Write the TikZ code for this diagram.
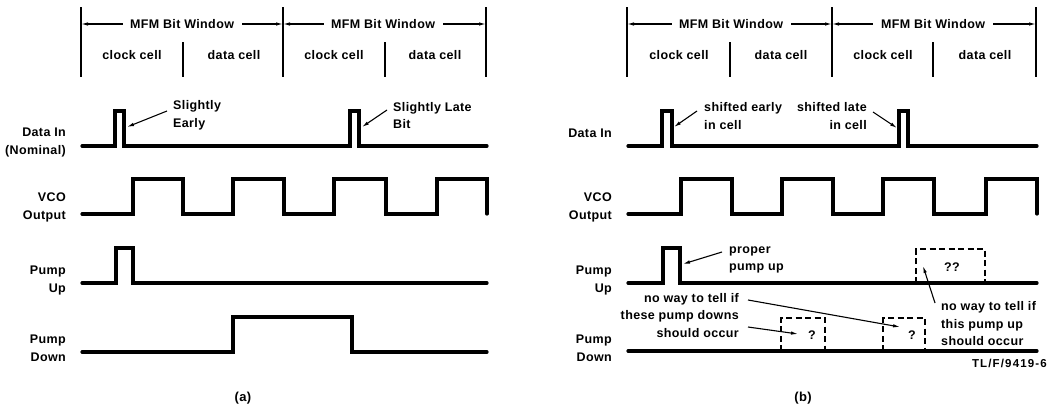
\documentclass[tikz,border=0pt]{standalone}
\usepackage{fontspec}
\setmainfont{Liberation Sans}[LetterSpace=3]
\usetikzlibrary{arrows.meta}
\begin{document}
\begin{tikzpicture}[x=1pt,y=-1pt,
  sig/.style={line width=3.2pt, line join=miter, line cap=round},
  hdr/.style={line width=1.7pt},
  harr/.style={line width=1.1pt, -{Latex[length=7pt,width=3.5pt]}},
  ann/.style={line width=1.1pt, -{Latex[length=7pt,width=3.5pt]}},
  lbl/.style={font=\bfseries\fontsize{12.5}{17.5}\selectfont, inner sep=0pt},
  dbox/.style={line width=2.8pt, dash pattern=on 6pt off 3.5pt},
]
\useasboundingbox (0,0) rectangle (1058,415);

% ---------------- panel (a) ----------------
\draw[hdr] (81,7)--(81,77) (283,7)--(283,77) (486,7)--(486,77) (183,42)--(183,77) (385,42)--(385,77);
\node[lbl] (wa1) at (182,24) {MFM Bit Window};
\node[lbl] (wa2) at (383,24) {MFM Bit Window};
\coordinate (ha0) at (81,24); \coordinate (ha1) at (283,24); \coordinate (ha2) at (486,24);
\draw[harr] ([xshift=-7pt]wa1.west) -- (ha0);
\draw[harr] ([xshift=8pt]wa1.east) -- (ha1);
\draw[harr] ([xshift=-7pt]wa2.west) -- (ha1);
\draw[harr] ([xshift=8pt]wa2.east) -- (ha2);
\node[lbl] (ca1) at (132,55) {clock cell};
\node[lbl] (da1) at (234,55) {data cell};
\node[lbl] (ca2) at (334,55) {clock cell};
\node[lbl] (da2) at (435,55) {data cell};

\node[lbl, anchor=east, align=right] (la1) at (66,142.5) {Data In\\(Nominal)};
\node[lbl, anchor=east, align=right] (la2) at (66,207.5) {VCO\\Output};
\node[lbl, anchor=east, align=right] (la3) at (66,280.5) {Pump\\Up};
\node[lbl, anchor=east, align=right] (la4) at (66,348.5) {Pump\\Down};

\draw[sig] (82,146) -- (115,146) -- (115,111) -- (124,111) -- (124,146) -- (350,146) -- (350,111) -- (359,111) -- (359,146) -- (487,146);
\draw[sig] (82,214)--(133,214)--(133,179)--(183,179)--(183,214)--(233,214)--(233,179)--(284,179)--(284,214)--(334,214)--(334,179)--(386,179)--(386,214)--(437,214)--(437,179)--(487,179)--(487,214);
\draw[sig] (82,283)--(116,283)--(116,248)--(133,248)--(133,283)--(487,283);
\draw[sig] (82,352)--(233,352)--(233,317)--(352,317)--(352,352)--(487,352);

\node[lbl, anchor=west, align=left] (ea) at (173,115.5) {Slightly\\Early};
\node[lbl, anchor=west, align=left] (la) at (393,115.5) {Slightly Late\\Bit};
\coordinate (ea1) at (127,127); \coordinate (la1p) at (362,127);
\draw[ann] ([shift={(-6,-4.5)}]ea.west) -- (ea1);
\draw[ann] ([shift={(-6,-5.5)}]la.west) -- (la1p);

\node[lbl, font=\bfseries\fontsize{13}{15}\selectfont] (capa) at (243,398) {(a)};

% ---------------- panel (b) ----------------
\draw[hdr] (627,7)--(627,77) (832,7)--(832,77) (1036,7)--(1036,77) (730,42)--(730,77) (933,42)--(933,77);
\node[lbl] (wb1) at (731,24) {MFM Bit Window};
\node[lbl] (wb2) at (933,24) {MFM Bit Window};
\coordinate (hb0) at (627,24); \coordinate (hb1) at (832,24); \coordinate (hb2) at (1036,24);
\draw[harr] ([xshift=-7pt]wb1.west) -- (hb0);
\draw[harr] ([xshift=8pt]wb1.east) -- (hb1);
\draw[harr] ([xshift=-8pt]wb2.west) -- (hb1);
\draw[harr] ([xshift=8pt]wb2.east) -- (hb2);
\node[lbl] (cb1) at (679,55) {clock cell};
\node[lbl] (db1) at (781,55) {data cell};
\node[lbl] (cb2) at (883,55) {clock cell};
\node[lbl] (db2) at (985,55) {data cell};

\node[lbl, anchor=east] (lb1) at (612,133) {Data In};
\node[lbl, anchor=east, align=right] (lb2) at (612,207.5) {VCO\\Output};
\node[lbl, anchor=east, align=right] (lb3) at (612,280.5) {Pump\\Up};
\node[lbl, anchor=east, align=right] (lb4) at (612,348.5) {Pump\\Down};

\draw[sig] (628,146)--(662,146)--(662,111)--(672,111)--(672,146)--(899,146)--(899,111)--(908,111)--(908,146)--(1037,146);
\draw[sig] (628,214)--(681,214)--(681,179)--(732,179)--(732,214)--(782,214)--(782,179)--(833,179)--(833,214)--(883,214)--(883,179)--(934,179)--(934,214)--(986,214)--(986,179)--(1037,179)--(1037,214);
\draw[sig] (628,283)--(663,283)--(663,248)--(680,248)--(680,283)--(1037,283);
\draw[sig] (628,351)--(1037,351);

\draw[dbox] (916,283)--(916,249)--(985,249)--(985,283);
\draw[dbox] (781,351)--(781,318)--(825,318)--(825,351);
\draw[dbox] (883,351)--(883,318)--(925,318)--(925,351);
\node[lbl] (qq) at (952,267) {??};
\node[lbl] (q1) at (812,335) {?};
\node[lbl] (q2) at (912,335) {?};

\node[lbl, anchor=west, align=left] (se) at (704,116) {shifted early\\in cell};
\node[lbl, anchor=east, align=right] (sl) at (867,116) {shifted late\\in cell};
\node[lbl, anchor=west, align=left] (pp) at (729,260) {proper\\pump up};
\node[lbl, anchor=east, align=right] (nd) at (739,315.5) {no way to tell if\\these pump downs\\should occur};
\node[lbl, anchor=west, align=left] (nu) at (941,324) {no way to tell if\\this pump up\\should occur};

\coordinate (se1) at (674,127);
\coordinate (sl1) at (897,128);
\coordinate (pp1) at (683,264);
\coordinate (nd1) at (900,327);
\coordinate (nd2) at (798,334);
\coordinate (nu1) at (923,266);
\draw[ann] ([shift={(-7,-5)}]se.west) -- (se1);
\draw[ann] ([shift={(6,-4)}]sl.east) -- (sl1);
\draw[ann] ([shift={(-7,-8)}]pp.west) -- (pp1);
\draw[ann] ([shift={(9,-15.5)}]nd.east) -- (nd1);
\draw[ann] ([shift={(9,11.5)}]nd.east) -- (nd2);
\draw[ann] ([shift={(-6,-21)}]nu.west) -- (nu1);

\node[lbl, font=\bfseries\fontsize{11.5}{14}\selectfont\addfontfeatures{LetterSpace=10}, anchor=east] (tl) at (1047,363) {TL/F/9419-6};
\node[lbl, font=\bfseries\fontsize{13}{15}\selectfont] (capb) at (803,398) {(b)};
\end{tikzpicture}
\end{document}
